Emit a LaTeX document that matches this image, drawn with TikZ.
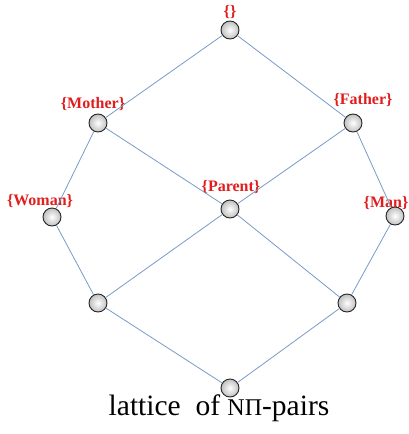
\documentclass[tikz,border=0pt]{standalone}
\usepackage{fontspec}
\setmainfont{Liberation Serif}
\newfontfamily\serifface{Liberation Serif}
\usepackage{xcolor}
\usepackage{tikz}

\definecolor{edgeblue}{RGB}{120,155,200}
\definecolor{labred}{RGB}{225,30,30}

\begin{document}
\begin{tikzpicture}[
  x=1pt, y=1pt,
  elem/.style={circle, draw=gray!30!black, line width=0.9pt, inner sep=0pt, minimum size=18pt, inner color=white, outer color=gray!50},
  lab/.style={text=labred, font=\serifface\fontsize{16}{16}\selectfont\bfseries, inner sep=0pt},
  edge/.style={draw=edgeblue, line width=0.8pt}
]
\useasboundingbox (0,0) rectangle (409,-434);
% lattice elements
\node[elem] (top) at (230,-30) {};
\node[elem] (mother) at (98,-123) {};
\node[elem] (father) at (353,-123) {};
\node[elem] (woman) at (52,-217) {};
\node[elem] (parent) at (230,-209) {};
\node[elem] (man) at (395,-216) {};
\node[elem] (lowl) at (98,-303) {};
\node[elem] (lowr) at (347,-303) {};
\node[elem] (bottom) at (230,-388) {};
% labels
\node[lab] (ltop) at (230,-12) {\{\}};
\node[lab] (lmother) at (93,-104) {\{Mother\}};
\node[lab] (lfather) at (363,-100) {\{Father\}};
\node[lab] (lwoman) at (40,-201) {\{Woman\}};
\node[lab] (lparent) at (231,-187) {\{Parent\}};
\node[lab] (lman) at (386,-203) {\{Man\}};
% caption
\node[font=\serifface\fontsize{29.5}{29.5}\selectfont, inner sep=0pt, anchor=base] (cap) at (219,-415)
  {lattice\ \ of {\fontsize{24}{24}\selectfont NΠ}-pairs};
% order
\path[edge] (top) -- (mother);
\path[edge] (top) -- (father);
\path[edge] (mother) -- (woman);
\path[edge] (mother) -- (parent);
\path[edge] (father) -- (parent);
\path[edge] (father) -- (man);
\path[edge] (woman) -- (lowl);
\path[edge] (parent) -- (lowl);
\path[edge] (parent) -- (lowr);
\path[edge] (man) -- (lowr);
\path[edge] (lowl) -- (bottom);
\path[edge] (lowr) -- (bottom);
\end{tikzpicture}
\end{document}
